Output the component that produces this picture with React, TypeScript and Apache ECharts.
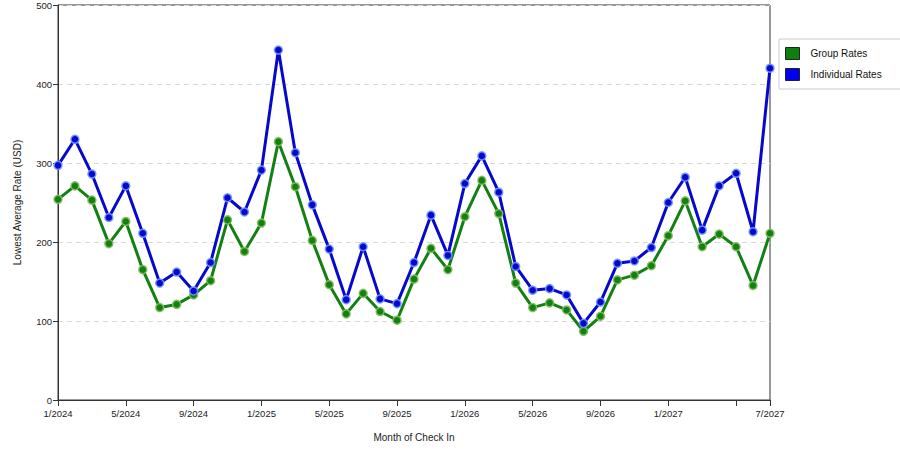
import { useEffect, useRef } from "react";
import * as echarts from "echarts";

const months: string[] = [];
for (let y = 2024; y <= 2027; y++) {
  for (let m = 1; m <= 12; m++) {
    if (y === 2027 && m > 7) break;
    months.push(`${m}/${y}`);
  }
}

const groupRates = [
  254, 271, 253, 198, 226, 165, 117, 121, 133, 151, 228, 188, 224, 327, 270,
  202, 146, 109, 135, 112, 101, 153, 192, 165, 232, 278, 236, 148, 117, 123,
  114, 87, 106, 152, 158, 170, 208, 252, 194, 210, 194, 145, 211,
];

const individualRates = [
  297, 330, 286, 231, 271, 211, 148, 162, 138, 174, 256, 238, 291, 443, 313,
  247, 191, 127, 194, 128, 122, 174, 234, 183, 274, 309, 263, 169, 139, 141,
  133, 97, 124, 173, 176, 193, 250, 282, 215, 271, 287, 213, 420,
];

const yTicks = [0, 100, 200, 300, 400, 500];

const font = "'Liberation Sans', Arial, sans-serif";
const last = months.length - 1;
const showTick = (i: number) => i % 4 === 0 || i === last;
const showLabel = (i: number) => (i % 4 === 0 && i !== last - 2) || i === last;

export default function App() {
  const chartRef = useRef<HTMLDivElement>(null);

  useEffect(() => {
    if (!chartRef.current) return;
    const chart = echarts.init(chartRef.current, undefined, { renderer: "svg" });

    chart.setOption({
      animation: false,
      backgroundColor: "#ffffff",
      textStyle: { fontFamily: font },
      grid: {
        left: 58,
        right: 130,
        top: 5,
        bottom: 50,
        show: true,
        borderColor: "#333",
        borderWidth: 1,
      },
      legend: {
        orient: "vertical",
        left: 779,
        top: 39,
        width: 110,
        padding: [8, 70, 8, 6],
        itemGap: 8,
        itemWidth: 14,
        itemHeight: 12,
        backgroundColor: "#fff",
        borderColor: "#cccccc",
        borderWidth: 1,
        icon: "rect",
        textStyle: { fontSize: 10, color: "#111", fontFamily: font, padding: [0, 0, 0, 6] },
        data: [
          { name: "Group Rates", itemStyle: { color: "#0f7f0f", borderColor: "#222", borderWidth: 1 } },
          { name: "Individual Rates", itemStyle: { color: "#0000ee", borderColor: "#222", borderWidth: 1 } },
        ],
      },
      xAxis: {
        type: "category",
        data: months,
        boundaryGap: false,
        name: "Month of Check In",
        nameLocation: "middle",
        nameGap: 32,
        nameTextStyle: { fontSize: 10, color: "#222", fontFamily: font },
        axisLine: { lineStyle: { color: "#333", width: 1 } },
        axisTick: {
          show: true,
          length: 6,
          interval: (i: number) => showTick(i),
          lineStyle: { color: "#333" },
        },
        axisLabel: {
          interval: (i: number) => showLabel(i),
          fontSize: 9.5,
          color: "#222",
          margin: 8,
          fontFamily: font,
        },
        splitLine: { show: false },
      },
      yAxis: {
        type: "value",
        min: yTicks[0],
        max: yTicks[yTicks.length - 1],
        interval: 100,
        name: "Lowest Average Rate (USD)",
        nameLocation: "middle",
        nameGap: 36,
        nameTextStyle: { fontSize: 10, color: "#222", fontFamily: font },
        axisLine: { show: true, lineStyle: { color: "#333", width: 1 } },
        axisTick: { show: true, length: 5, lineStyle: { color: "#333" } },
        axisLabel: { fontSize: 9.5, color: "#222", margin: 6, fontFamily: font },
        splitLine: { show: true, lineStyle: { color: "#d8d8d8", type: [5, 4], width: 1 } },
      },
      series: [
        {
          name: "Group Rates",
          type: "line",
          data: groupRates,
          symbol: "circle",
          symbolSize: 8,
          lineStyle: { color: "#128012", width: 3 },
          itemStyle: { color: "#128012", borderColor: "rgba(130,190,90,0.9)", borderWidth: 1.5 },
        },
        {
          name: "Individual Rates",
          type: "line",
          data: individualRates,
          symbol: "circle",
          symbolSize: 8,
          lineStyle: { color: "#0808cc", width: 3 },
          itemStyle: { color: "#0808cc", borderColor: "rgba(110,150,255,0.9)", borderWidth: 1.5 },
        },
      ],
    });

    return () => chart.dispose();
  }, []);

  return (
    <div
      ref={chartRef}
      style={{ position: "absolute", left: 0, top: 0, width: 900, height: 450 }}
    />
  );
}
